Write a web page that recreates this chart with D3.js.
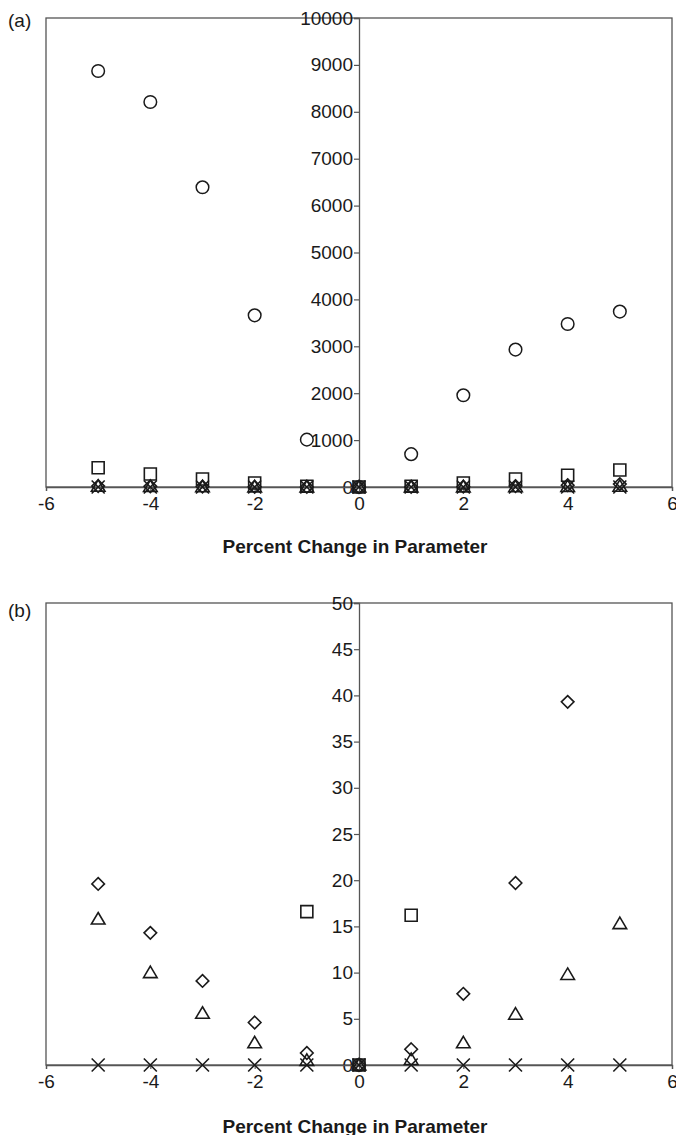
<!DOCTYPE html>
<html>
<head>
<meta charset="utf-8">
<script src="https://cdn.jsdelivr.net/npm/d3@7"></script>
<style>
  body { margin: 0; background: #fff; }
  svg { display: block; font-family: "Liberation Sans", Arial, sans-serif; }
</style>
</head>
<body>
<div id="chart"></div>
<script>
// values
const pctChange = [-5, -4, -3, -2, -1, 0, 1, 2, 3, 4, 5];
const circleSeries = [8870, 8210, 6390, 3660, 1010, 0, 700, 1955, 2930, 3475, 3740];
const squareSeries = [412, 277, 170, 85, 16.6, 0, 16.2, 85, 170, 250, 362];
const diamondSeries = [19.6, 14.3, 9.1, 4.6, 1.3, 0, 1.7, 7.7, 19.7, 39.3, 62];
const triangleSeries = [15.8, 10.0, 5.6, 2.4, 0.5, 0, 0.6, 2.4, 5.5, 9.8, 15.3];
const crossSeries = [0, 0, 0, 0, 0, 0, 0, 0, 0, 0, 0];

const xTicks = [-6, -4, -2, 0, 2, 4, 6];
const yTicksA = [0, 1000, 2000, 3000, 4000, 5000, 6000, 7000, 8000, 9000, 10000];
const yTicksB = [0, 5, 10, 15, 20, 25, 30, 35, 40, 45, 50];

const series = [
    { name: 'circle', values: circleSeries },
    { name: 'square', values: squareSeries },
    { name: 'diamond', values: diamondSeries },
    { name: 'triangle', values: triangleSeries },
    { name: 'cross', values: crossSeries }
];

const width = 676, height = 1135;
const left = 46, right = 672;
const lineColor = '#555';
const inkColor = '#1a1a1a';
const fontSize = '19px';

const svg = d3.select('#chart').append('svg')
    .attr('width', width)
    .attr('height', height);

const x = d3.scaleLinear().domain([-6, 6]).range([left, right]);

// marker shapes, centred on 0,0
function markerPath(name) {
    switch (name) {
        case 'square': return 'M-6,-6H6V6H-6Z';
        case 'diamond': return 'M0,-6.3L6.3,0L0,6.3L-6.3,0Z';
        case 'triangle': return 'M0,-6.5L6.8,5L-6.8,5Z';
        case 'cross': return 'M-6.5,-6.5L6.5,6.5M6.5,-6.5L-6.5,6.5';
    }
    return null;
}

function panel(opts) {
    const { top, bottom, yMax, yTicks, tag, labelY, titleY } = opts;
    const y = d3.scaleLinear().domain([0, yMax]).range([bottom, top]);
    const g = svg.append('g');

    // frame
    g.append('rect')
        .attr('x', left).attr('y', top)
        .attr('width', right - left).attr('height', bottom - top)
        .attr('fill', 'none')
        .attr('stroke', lineColor)
        .attr('stroke-width', 1.3);

    // y axis through x = 0
    const yAxis = d3.axisLeft(y)
        .tickValues(yTicks)
        .tickSize(5)
        .tickPadding(1)
        .tickFormat(d => String(d));
    g.append('g')
        .attr('transform', `translate(${x(0)},0)`)
        .call(yAxis)
        .call(a => a.select('.domain').attr('stroke', lineColor).attr('stroke-width', 1.3))
        .call(a => a.selectAll('.tick line').attr('stroke', lineColor).attr('stroke-width', 1.2))
        .call(a => a.selectAll('.tick text')
            .attr('fill', inkColor)
            .style('font-size', fontSize));

    // x axis along y = 0
    const xAxis = d3.axisBottom(x)
        .tickValues(xTicks)
        .tickSize(4)
        .tickPadding(6)
        .tickFormat(d => String(d));
    g.append('g')
        .attr('transform', `translate(0,${y(0)})`)
        .call(xAxis)
        .call(a => a.select('.domain').attr('stroke', lineColor).attr('stroke-width', 1.3))
        .call(a => a.selectAll('.tick line').attr('stroke', lineColor).attr('stroke-width', 1.2))
        .call(a => a.selectAll('.tick text')
            .attr('fill', inkColor)
            .style('font-size', fontSize));

    // markers
    series.forEach(s => {
        const pts = s.values
            .map((v, i) => ({ x: pctChange[i], v }))
            .filter(d => d.v <= yMax);
        const layer = g.append('g');
        if (s.name === 'circle') {
            layer.selectAll('circle').data(pts).enter().append('circle')
                .attr('cx', d => x(d.x))
                .attr('cy', d => y(d.v))
                .attr('r', 6.3)
                .attr('fill', 'none')
                .attr('stroke', inkColor)
                .attr('stroke-width', 1.5);
        } else {
            layer.selectAll('path').data(pts).enter().append('path')
                .attr('d', markerPath(s.name))
                .attr('transform', d => `translate(${x(d.x)},${y(d.v)})`)
                .attr('fill', 'none')
                .attr('stroke', inkColor)
                .attr('stroke-width', 1.6);
        }
    });

    // panel tag
    svg.append('text')
        .attr('x', 8).attr('y', labelY)
        .attr('fill', inkColor)
        .style('font-size', fontSize)
        .text(tag);

    // axis title
    svg.append('text')
        .attr('x', (left + right) / 2 - 4)
        .attr('y', titleY)
        .attr('text-anchor', 'middle')
        .attr('fill', inkColor)
        .style('font-size', fontSize)
        .style('font-weight', 'bold')
        .text('Percent Change in Parameter');
}

panel({ top: 18, bottom: 487, yMax: 10000, yTicks: yTicksA, tag: '(a)', labelY: 27, titleY: 553 });
panel({ top: 603, bottom: 1065, yMax: 50, yTicks: yTicksB, tag: '(b)', labelY: 617, titleY: 1133 });
</script>
</body>
</html>
